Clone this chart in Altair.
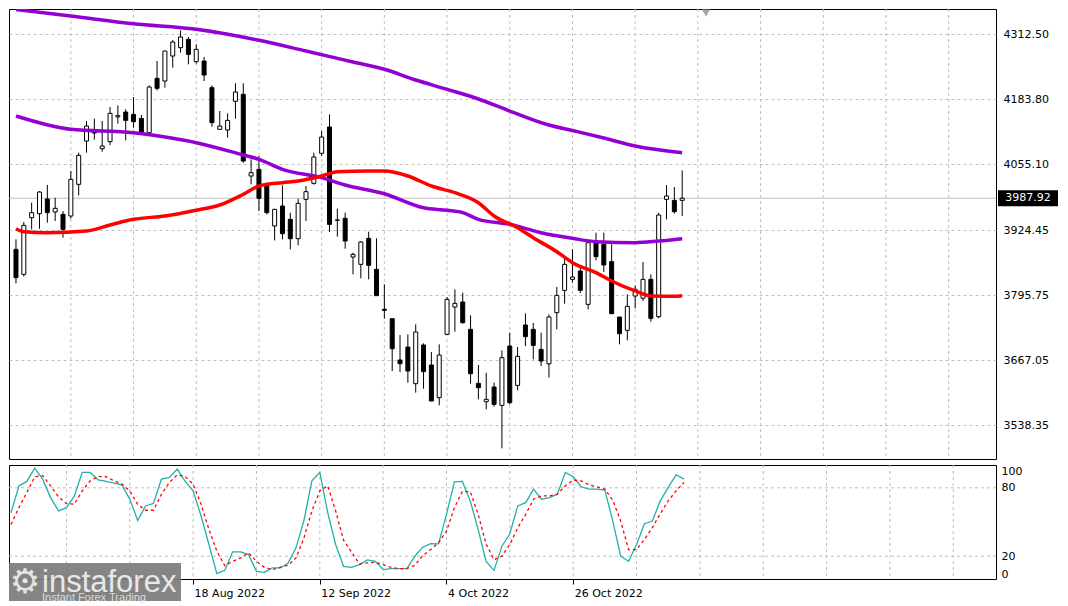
import altair as alt
import pandas as pd

# ---------------- data ----------------
opens = [3886.7, 3837.2, 3949.4, 3957.3, 3986.4, 3960.6, 3956.0, 3952.7, 4015.4, 4101.2,
         4119.0, 4086.0, 4099.9, 4149.0, 4158.6, 4154.0, 4146.0, 4117.7, 4225.3, 4220.0,
         4269.5, 4286.0, 4302.5, 4258.3, 4259.6, 4206.8, 4124.3, 4123.0, 4179.7, 4193.6,
         4031.9, 4045.1, 4013.4, 3932.9, 3972.5, 3946.1, 3907.8, 3985.7, 4017.4, 4076.8,
         4128.9, 3944.0, 3948.1, 3871.5, 3857.0, 3908.5, 3847.1, 3768.0, 3749.4, 3667.6,
         3693.3, 3620.7, 3697.3, 3657.7, 3593.0, 3718.4, 3772.5, 3782.4, 3728.3, 3621.4,
         3585.0, 3614.1, 3577.8, 3695.3, 3617.4, 3736.9, 3728.3, 3688.7, 3660.0, 3761.3,
         3805.5, 3827.3, 3843.8, 3777.8, 3899.9, 3896.6, 3862.3, 3752.7, 3726.3, 3794.3,
         3790.0, 3827.3, 3753.4, 3985.7, 3983.7, 3983.7]
highs = [3906.5, 3940.8, 3979.1, 4002.0, 4014.1, 3989.0, 3962.6, 4041.8, 4078.1, 4140.8,
         4145.4, 4140.8, 4168.5, 4171.8, 4163.9, 4188.3, 4152.7, 4211.4, 4259.6, 4280.0,
         4301.2, 4320.3, 4307.1, 4292.6, 4267.5, 4211.4, 4160.6, 4156.0, 4215.4, 4215.4,
         4064.9, 4071.5, 4018.7, 3967.2, 4013.4, 3959.3, 3987.0, 4012.1, 4078.1, 4121.0,
         4154.0, 3967.2, 3959.3, 3880.1, 3903.2, 3921.7, 3908.5, 3817.4, 3749.4, 3717.1,
         3718.4, 3738.2, 3700.6, 3683.4, 3698.6, 3792.3, 3807.5, 3800.9, 3756.0, 3657.7,
         3642.5, 3622.7, 3686.7, 3721.7, 3693.3, 3760.0, 3741.0, 3721.7, 3758.0, 3812.1,
         3873.5, 3886.7, 3850.0, 3899.9, 3919.7, 3919.7, 3896.6, 3752.7, 3797.6, 3815.0,
         3861.6, 3837.2, 3959.3, 4014.1, 4010.1, 4043.1]
lows = [3819.4, 3832.6, 3926.3, 3927.6, 3939.5, 3942.8, 3909.8, 3947.4, 3993.6, 4078.1,
        4104.0, 4080.1, 4093.3, 4135.5, 4102.5, 4127.6, 4117.7, 4116.4, 4201.5, 4206.8,
        4246.4, 4276.1, 4253.0, 4254.3, 4220.0, 4129.6, 4123.0, 4107.8, 4145.4, 4058.3,
        4015.4, 3962.6, 3956.0, 3904.5, 3906.5, 3886.7, 3894.6, 3942.8, 4014.7, 4071.5,
        3921.0, 3911.8, 3888.0, 3837.2, 3829.3, 3827.3, 3795.0, 3749.4, 3645.8, 3643.8,
        3622.7, 3602.9, 3610.8, 3586.4, 3577.8, 3717.1, 3723.7, 3739.5, 3620.7, 3589.7,
        3570.0, 3575.2, 3492.7, 3579.8, 3607.5, 3695.0, 3669.0, 3655.7, 3632.6, 3728.3,
        3779.1, 3820.7, 3800.0, 3767.9, 3864.9, 3841.8, 3759.3, 3698.6, 3706.5, 3770.0,
        3784.4, 3743.5, 3750.1, 3946.1, 3957.3, 3952.7]
closes = [3830.6, 3934.2, 3959.3, 4000.2, 3959.3, 3967.9, 3926.3, 4025.3, 4072.8, 4130.9,
          4117.0, 4091.3, 4156.0, 4151.4, 4142.1, 4139.5, 4119.0, 4208.1, 4205.5, 4279.4,
          4297.2, 4307.1, 4272.8, 4282.7, 4231.9, 4137.5, 4130.9, 4142.1, 4198.2, 4061.6,
          4038.5, 3987.7, 3959.3, 3965.9, 3917.7, 3907.8, 3977.8, 4000.9, 4069.5, 4109.1,
          3936.2, 3945.0, 3903.2, 3876.8, 3901.2, 3855.0, 3795.0, 3766.0, 3690.0, 3660.3,
          3645.8, 3723.0, 3644.5, 3586.4, 3677.5, 3787.7, 3779.8, 3741.5, 3640.5, 3612.8,
          3589.7, 3579.8, 3672.2, 3583.1, 3674.8, 3713.8, 3696.6, 3665.6, 3752.7, 3795.6,
          3857.0, 3831.9, 3805.5, 3899.9, 3872.2, 3855.7, 3759.3, 3719.7, 3773.9, 3807.5,
          3827.3, 3750.1, 3954.7, 3992.3, 3961.3, 3987.92]

ma_slow_i = [0, 7, 15, 23, 31, 37, 43, 47, 51, 55, 59, 63, 68, 71, 75, 79, 85]
ma_slow = [4361.6, 4348.7, 4333.5, 4322.4, 4300.6, 4279.4, 4257.7, 4243.2, 4222.0, 4203.6,
           4184.4, 4160.6, 4132.9, 4122.0, 4107.2, 4091.3, 4078.1]
ma_mid_i = [0, 7, 15, 20, 23, 29, 31, 34, 39, 42, 47, 52, 55, 57, 59, 63, 67, 71, 74, 79, 82, 85]
ma_mid = [4150.7, 4124.4, 4117.7, 4106.6, 4097.9, 4073.5, 4065.0, 4045.2, 4028.6, 4014.1,
          3996.9, 3969.2, 3964.0, 3959.3, 3946.2, 3936.3, 3919.7, 3908.6, 3901.9, 3899.9,
          3903.2, 3907.8]
ma_fast_i = [0, 1, 4, 9, 12, 15, 19, 23, 26, 29, 31, 34, 36, 39, 41, 45, 47, 50, 53, 56,
             59, 61, 64, 66, 69, 71, 74, 76, 79, 81, 84, 85]
ma_fast = [3927.6, 3921.6, 3919.7, 3923.0, 3934.9, 3946.2, 3952.7, 3964.0, 3974.5, 3995.7,
           4012.1, 4018.7, 4022.0, 4031.9, 4040.5, 4041.8, 4041.8, 4031.9, 4012.1, 3998.9,
           3979.1, 3952.7, 3929.6, 3909.8, 3882.1, 3860.3, 3840.5, 3824.1, 3804.3, 3794.3,
           3793.7, 3795.0]

stoch_k = [58.2, 81.7, 85.6, 97.3, 87.6, 71.4, 59.7, 62.6, 72.9, 93.5,
           93.5, 87.0, 85.6, 84.1, 82.6, 70.0, 51.4, 64.1, 66.4, 87.6,
           89.1, 96.4, 85.6, 77.3, 55.3, 30.3, 4.7, 7.6, 23.8, 23.8,
           21.4, 6.7, 5.8, 9.7, 9.7, 14.1, 27.3, 51.4, 86.1, 93.5,
           58.2, 30.3, 11.1, 10.2, 12.6, 16.7, 15.5, 8.2, 9.1, 9.1,
           9.1, 20.0, 27.9, 31.1, 30.8, 56.7, 85.3, 85.6, 68.5, 43.5,
           15.5, 7.6, 28.8, 39.7, 64.1, 67.0, 78.8, 70.0, 71.4, 74.4,
           93.5, 89.7, 80.9, 78.8, 78.8, 77.9, 50.8, 20.0, 15.5, 30.3,
           48.5, 50.8, 68.5, 80.3, 91.4, 87.6]
stoch_d = [47.9, 62.6, 75.9, 89.7, 90.6, 81.7, 72.0, 66.1, 65.6, 77.3,
           86.1, 90.0, 89.7, 86.1, 83.2, 77.3, 65.6, 60.3, 60.3, 74.4,
           84.7, 91.4, 89.7, 83.2, 65.6, 43.5, 24.4, 11.7, 15.5, 18.5,
           22.9, 15.5, 10.2, 8.2, 10.2, 12.0, 18.5, 36.1, 59.7, 77.3,
           81.7, 59.7, 34.0, 23.8, 13.2, 14.1, 14.7, 12.6, 10.2, 9.1,
           9.1, 12.0, 20.5, 25.8, 31.7, 42.0, 62.6, 76.7, 76.7, 56.7,
           30.8, 17.0, 20.0, 30.3, 45.0, 56.7, 70.0, 72.9, 72.9, 74.4,
           81.7, 86.7, 86.1, 82.6, 80.9, 78.8, 69.1, 50.8, 25.8, 25.8,
           34.7, 45.0, 57.3, 68.5, 77.3, 84.7]

price_ticks = [4312.50, 4183.80, 4055.10, 3924.45, 3795.75, 3667.05, 3538.35]
stoch_ticks = [0, 20, 80, 100]
stoch_levels = [20, 80]
grid_bars = [7, 15, 23, 31, 39, 47, 55, 63, 71, 79, 87, 95, 103, 111, 119]
date_bars = [7, 23, 39, 55, 71]
date_labels = ["27 Jul 2022", "18 Aug 2022", "12 Sep 2022", "4 Oct 2022", "26 Oct 2022"]
last_price = [3987.92]
last_label = ["3987.92"]

# ---------------- tables ----------------
n = len(closes)
candles = pd.DataFrame({"i": list(range(n)), "open": opens, "high": highs,
                        "low": lows, "close": closes})
slow_df = pd.DataFrame({"i": ma_slow_i, "v": ma_slow})
mid_df = pd.DataFrame({"i": ma_mid_i, "v": ma_mid})
fast_df = pd.DataFrame({"i": ma_fast_i, "v": ma_fast})
stoch_df = pd.DataFrame({"i": list(range(len(stoch_k))), "k": stoch_k, "d": stoch_d})
grid_df = pd.DataFrame({"i": grid_bars})
last_df = pd.DataFrame({"v": last_price, "label": last_label})
lvl_df = pd.DataFrame({"s": stoch_levels})

FONT = "DejaVu Sans"
GRID = "#c0c0c0"
x_scale = alt.Scale(domain=[-0.2526, 124.4], nice=False, zero=False)
y_scale = alt.Scale(domain=[3471.6, 4362.6], nice=False, zero=False)
s_scale = alt.Scale(domain=[0, 100], nice=False, zero=False)

main_axis = alt.Axis(orient="right", values=price_ticks, format=".2f", grid=True,
                     gridDash=[3, 3], gridColor=GRID, ticks=False, domain=False,
                     labelPadding=7, labelFont=FONT, labelFontSize=11,
                     labelColor="black", labelOverlap=False, title=None)

def xm(field="i"):
    return alt.X(f"{field}:Q", scale=x_scale, axis=None, title=None)

def ym(field):
    return alt.Y(f"{field}:Q", scale=y_scale, axis=main_axis, title=None)

vgrid = alt.Chart(grid_df).mark_rule(color=GRID, strokeDash=[3, 3], strokeWidth=1).encode(x=xm())
last_line = alt.Chart(last_df).mark_rule(color=GRID, strokeWidth=1).encode(y=ym("v"))
wicks = alt.Chart(candles).mark_rule(color="black", strokeWidth=1, clip=True).encode(
    x=xm(), y=ym("low"), y2="high:Q")
bodies = alt.Chart(candles).mark_bar(size=4, stroke="black", strokeWidth=1, clip=True).encode(
    x=xm(), y=ym("open"), y2="close:Q",
    fill=alt.condition("datum.close >= datum.open", alt.value("white"), alt.value("black")))

def ma_line(df, color):
    return alt.Chart(df).mark_line(color=color, strokeWidth=3.5, clip=True,
                                   interpolate="monotone").encode(x=xm(), y=ym("v"))

slow_line = ma_line(slow_df, "#9400D3")
mid_line = ma_line(mid_df, "#9400D3")
fast_line = ma_line(fast_df, "#FF0000")

box_shape = "M-1,-0.27L1,-0.27L1,0.27L-1,0.27Z"
price_box = alt.Chart(last_df).mark_point(shape=box_shape, size=3600, filled=True,
                                          color="black", opacity=1, clip=False).encode(
    x=alt.value(1019), y=ym("v"))
price_txt = alt.Chart(last_df).mark_text(color="white", font=FONT, fontSize=11,
                                         align="center", baseline="middle", clip=False).encode(
    x=alt.value(1019), y=ym("v"), text="label:N")
shift_mark = alt.Chart(last_df).mark_point(shape="triangle-down", filled=True, color="#a8a8a8",
                                           opacity=1, size=70, clip=False).encode(
    x=alt.value(697), y=alt.value(4))

main = alt.layer(vgrid, last_line, wicks, bodies, slow_line, mid_line, fast_line,
                 price_box, price_txt, shift_mark).properties(width=987, height=450)

# ---------------- stochastic panel ----------------
label_expr = " : ".join(f"datum.value == {b} ? '{t}'" for b, t in zip(date_bars, date_labels)) + " : ''"
x_axis_s = alt.Axis(values=date_bars, labelExpr=label_expr, labelAlign="left", labelOffset=1,
                    tickSize=5, tickColor="black", domain=False, grid=False, labelFont=FONT,
                    labelFontSize=11, labelColor="black", labelPadding=3, labelOverlap=False,
                    labelBound=False, labelFlush=False, title=None)
s_axis = alt.Axis(orient="right", values=stoch_ticks, labelFlush=True, ticks=False, grid=False,
                  domain=False, labelPadding=5, labelFont=FONT, labelFontSize=11,
                  labelColor="black", labelOverlap=False, title=None)

def xs():
    return alt.X("i:Q", scale=x_scale, axis=x_axis_s, title=None)

def ys(field):
    return alt.Y(f"{field}:Q", scale=s_scale, axis=s_axis, title=None)

s_vgrid = alt.Chart(grid_df).mark_rule(color=GRID, strokeDash=[3, 3], strokeWidth=1).encode(x=xs())
s_hgrid = alt.Chart(lvl_df).mark_rule(color=GRID, strokeDash=[3, 3], strokeWidth=1).encode(y=ys("s"))
k_line = alt.Chart(stoch_df).mark_line(color="#20B2AA", strokeWidth=1.3, clip=True).encode(
    x=xs(), y=ys("k"))
d_line = alt.Chart(stoch_df).mark_line(color="#FF0000", strokeWidth=1.3, strokeDash=[3, 3],
                                       clip=True).encode(x=xs(), y=ys("d"))

wm_box = alt.Chart(last_df).mark_rect(color="#7b7b7b", opacity=0.92, clip=False).encode(
    x=alt.value(0), x2=alt.value(172), y=alt.value(98), y2=alt.value(136))
wm_gear = alt.Chart(last_df).mark_text(text="\u2699", font=FONT, fontSize=34, color="#e4e4e4",
                                       align="center", baseline="middle", clip=False).encode(
    x=alt.value(16), y=alt.value(118))
wm_name = alt.Chart(last_df).mark_text(text="instaforex", font="Liberation Sans", fontSize=31,
                                       color="#e8e8e8", align="left", baseline="alphabetic",
                                       clip=False).encode(x=alt.value(33), y=alt.value(127))
wm_sub = alt.Chart(last_df).mark_text(text="Instant Forex Trading", font="Liberation Sans",
                                      fontSize=11, color="#dcdcdc", align="left",
                                      baseline="alphabetic", clip=False).encode(
    x=alt.value(33), y=alt.value(136))

stoch = alt.layer(s_vgrid, s_hgrid, k_line, d_line, wm_box, wm_gear, wm_name, wm_sub).properties(
    width=987, height=114)

chart = alt.vconcat(main, stoch, spacing=4).properties(
    padding={"left": 0, "top": 0, "right": 0, "bottom": 0},
    background="white",
).configure_view(stroke="black", strokeWidth=1)

chart.save("out.html", embed_options={"renderer": "svg", "actions": False})
